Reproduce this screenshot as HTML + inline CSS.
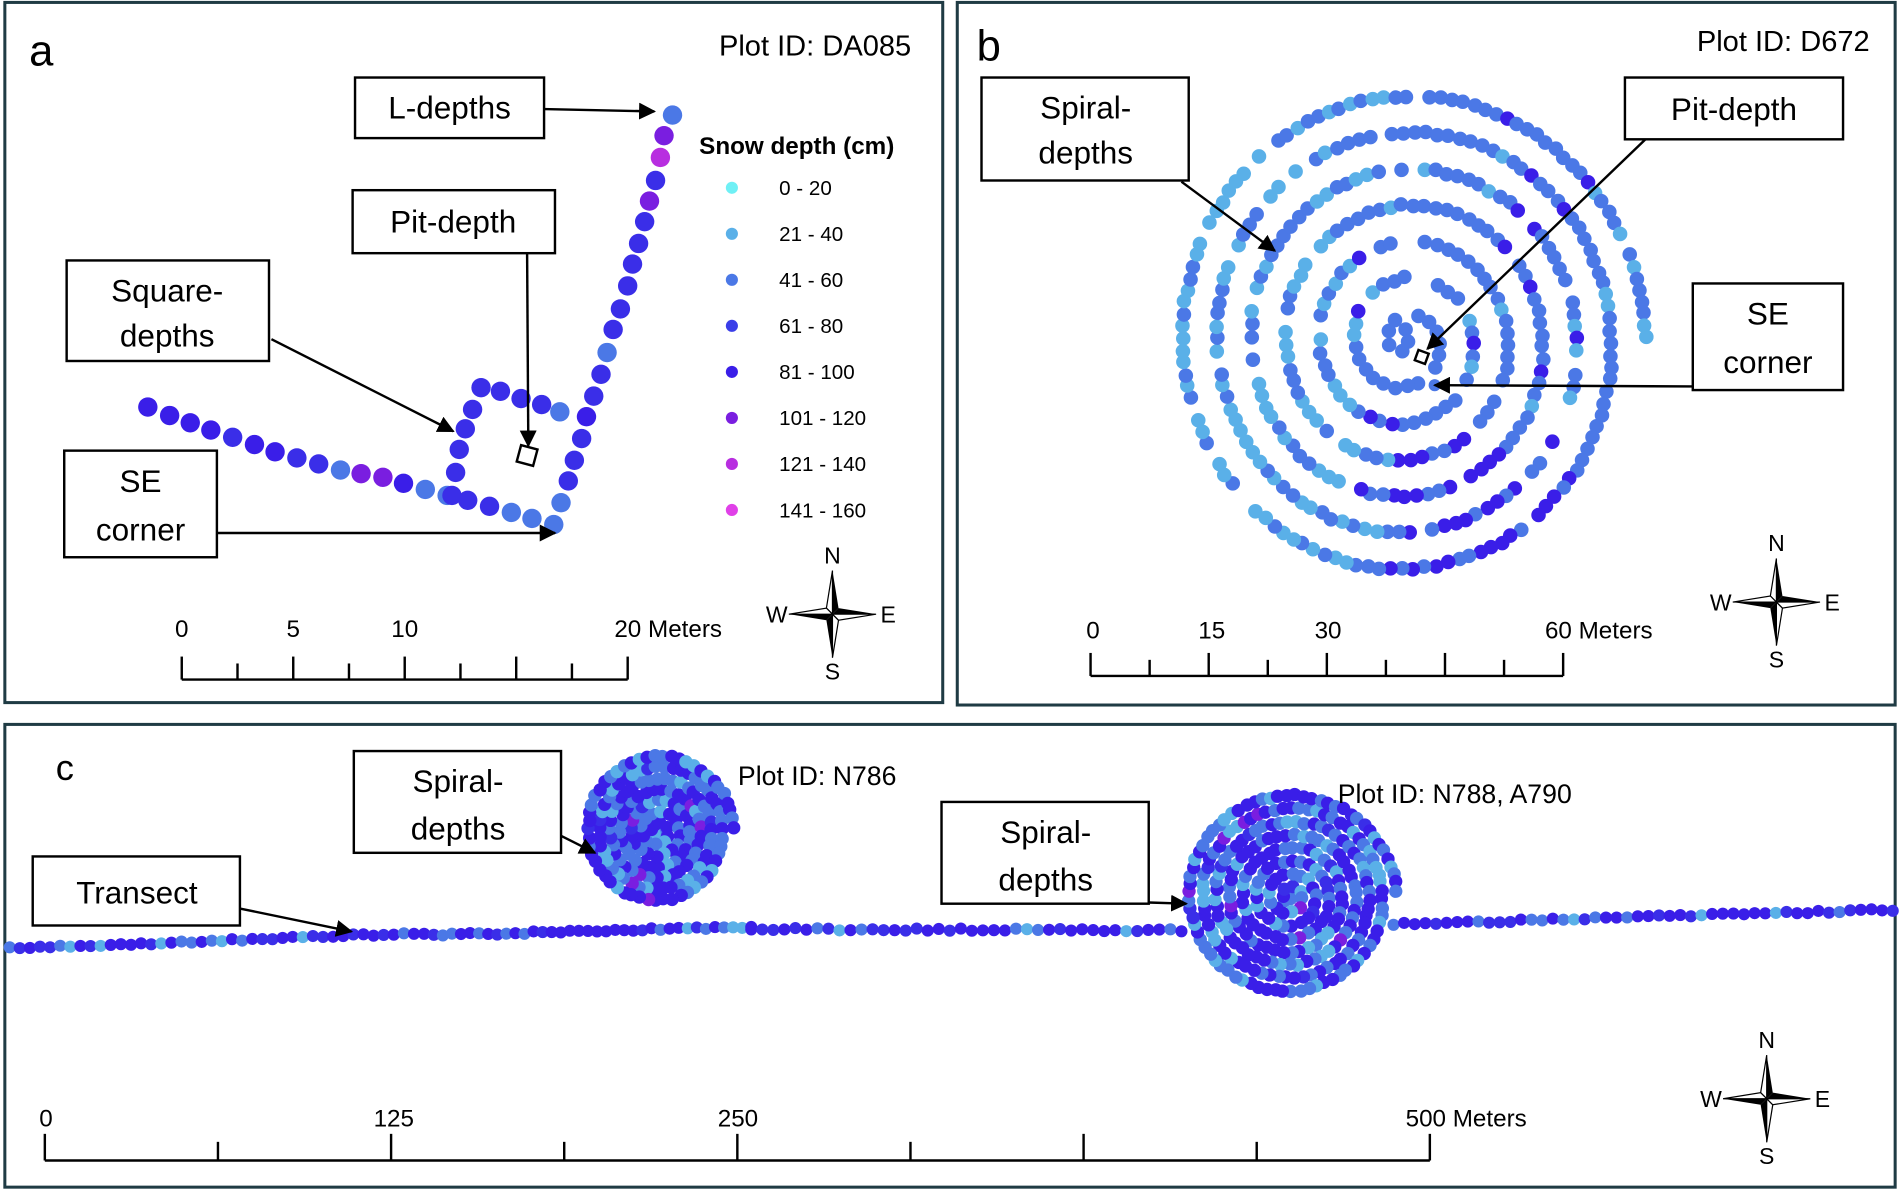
<!DOCTYPE html>
<html><head><meta charset="utf-8"><style>
html,body{margin:0;padding:0;background:#fff;}
svg{display:block;}
text{font-family:"Liberation Sans",sans-serif;fill:#000;}
</style></head><body>
<svg id="s" width="1900" height="1192" viewBox="0 0 1568 984" preserveAspectRatio="none" xmlns="http://www.w3.org/2000/svg">
<defs><marker id="ah" viewBox="0 0 10 10" refX="9" refY="5" markerWidth="7" markerHeight="7" orient="auto"><path d="M0,0 L10,5 L0,10 z" fill="#000"/></marker></defs>
<rect x="0" y="0" width="1568" height="984" fill="#fff"/>
<rect x="4" y="2" width="774" height="578" fill="none" stroke="#1f3b44" stroke-width="2.5"/>
<rect x="790" y="2" width="774" height="580" fill="none" stroke="#1f3b44" stroke-width="2.5"/>
<rect x="4" y="598" width="1560" height="382" fill="none" stroke="#1f3b44" stroke-width="2.5"/>
<g id="dots"></g>
<!-- Panel a -->
<text x="24" y="54" font-size="36">a</text>
<text x="752" y="46" font-size="24" text-anchor="end">Plot ID: DA085</text>
<g stroke="#000" stroke-width="2" fill="#fff">
<rect x="293" y="64" width="156" height="50"/>
<rect x="291" y="157" width="167" height="52"/>
<rect x="55" y="215" width="167" height="83"/>
<rect x="53" y="372" width="126" height="88"/>
</g>
<text x="371" y="98" font-size="26" text-anchor="middle">L-depths</text>
<text x="374" y="192" font-size="26" text-anchor="middle">Pit-depth</text>
<text x="138" y="249" font-size="26" text-anchor="middle">Square-</text>
<text x="138" y="286" font-size="26" text-anchor="middle">depths</text>
<text x="116" y="406" font-size="26" text-anchor="middle">SE</text>
<text x="116" y="446" font-size="26" text-anchor="middle">corner</text>
<g stroke="#000" stroke-width="2" fill="none" marker-end="url(#ah)">
<line x1="449" y1="90" x2="540" y2="92"/>
<line x1="435" y1="209" x2="436" y2="368"/>
<line x1="224" y1="280" x2="374" y2="356"/>
<line x1="179" y1="440" x2="458" y2="440"/>
</g>
<rect x="428" y="369" width="14" height="14" fill="#fff" stroke="#000" stroke-width="2" transform="rotate(15 435 376)"/>
<text x="577" y="127" font-size="20" font-weight="bold">Snow depth (cm)</text>
<g font-size="17">
<text x="643" y="161">0 - 20</text><text x="643" y="199">21 - 40</text><text x="643" y="237">41 - 60</text><text x="643" y="275">61 - 80</text>
<text x="643" y="313">81 - 100</text><text x="643" y="351">101 - 120</text><text x="643" y="389">121 - 140</text><text x="643" y="427">141 - 160</text>
</g>
<g>
<circle cx="604" cy="155" r="5" fill="#6ff0f5"/><circle cx="604" cy="193" r="5" fill="#5ab0e8"/><circle cx="604" cy="231" r="5" fill="#4b78e6"/><circle cx="604" cy="269" r="5" fill="#3a3ee8"/>
<circle cx="604" cy="307" r="5" fill="#3a1ee8"/><circle cx="604" cy="345" r="5" fill="#7a1ee0"/><circle cx="604" cy="383" r="5" fill="#b82ee0"/><circle cx="604" cy="421" r="5" fill="#e040e8"/>
</g>
<g id="scales" stroke="#000" stroke-width="2" fill="none"></g>
<g font-size="20">
<text x="150" y="526" text-anchor="middle">0</text><text x="242" y="526" text-anchor="middle">5</text><text x="334" y="526" text-anchor="middle">10</text><text x="507" y="526">20 Meters</text>
<text x="902" y="527" text-anchor="middle">0</text><text x="1000" y="527" text-anchor="middle">15</text><text x="1096" y="527" text-anchor="middle">30</text><text x="1275" y="527">60 Meters</text>
<text x="38" y="930" text-anchor="middle">0</text><text x="325" y="930" text-anchor="middle">125</text><text x="609" y="930" text-anchor="middle">250</text><text x="1160" y="930">500 Meters</text>
</g>
<!-- Panel b -->
<text x="806" y="50" font-size="36">b</text>
<text x="1543" y="42" font-size="24" text-anchor="end">Plot ID: D672</text>
<g stroke="#000" stroke-width="2" fill="#fff">
<rect x="810" y="64" width="171" height="85"/>
<rect x="1341" y="64" width="180" height="51"/>
<rect x="1397" y="234" width="124" height="88"/>
</g>
<text x="896" y="98" font-size="26" text-anchor="middle">Spiral-</text>
<text x="896" y="135" font-size="26" text-anchor="middle">depths</text>
<text x="1431" y="99" font-size="26" text-anchor="middle">Pit-depth</text>
<text x="1459" y="268" font-size="26" text-anchor="middle">SE</text>
<text x="1459" y="308" font-size="26" text-anchor="middle">corner</text>
<g stroke="#000" stroke-width="2" fill="none" marker-end="url(#ah)">
<line x1="975" y1="150" x2="1052" y2="207"/>
<line x1="1358" y1="115" x2="1178" y2="288"/>
<line x1="1397" y1="319" x2="1184" y2="318"/>
</g>
<!-- Panel c -->
<text x="46" y="644" font-size="30">c</text>
<g stroke="#000" stroke-width="2" fill="#fff">
<rect x="292" y="620" width="171" height="84"/>
<rect x="777" y="662" width="171" height="84"/>
<rect x="27" y="707" width="171" height="57"/>
</g>
<text x="378" y="654" font-size="26" text-anchor="middle">Spiral-</text>
<text x="378" y="693" font-size="26" text-anchor="middle">depths</text>
<text x="863" y="696" font-size="26" text-anchor="middle">Spiral-</text>
<text x="863" y="735" font-size="26" text-anchor="middle">depths</text>
<text x="113" y="746" font-size="26" text-anchor="middle">Transect</text>
<text x="609" y="648" font-size="22">Plot ID: N786</text>
<text x="1104" y="663" font-size="22">Plot ID: N788, A790</text>
<g stroke="#000" stroke-width="2" fill="none" marker-end="url(#ah)">
<line x1="463" y1="690" x2="491" y2="704"/>
<line x1="948" y1="745" x2="979" y2="746"/>
<line x1="198" y1="750" x2="290" y2="769"/>
</g>
<g id="comp"></g>
</svg>
<script>
var NS="http://www.w3.org/2000/svg";
var D=document.getElementById("dots"),S=document.getElementById("scales"),C=document.getElementById("comp");
function el(p,t,a){var e=document.createElementNS(NS,t);for(var k in a)e.setAttribute(k,a[k]);p.appendChild(e);return e;}
var seed=7;function rnd(){seed=(seed*16807)%2147483647;return seed/2147483647;}
var COL={c:"#6ff0f5",l:"#5ab0e8",m:"#4b78e6",d:"#3a2ee8",v:"#3a1ee8",p:"#7a1ee0",g:"#b82ee0",k:"#e040e8"};
function dot(x,y,r,c){el(D,"circle",{cx:x,cy:y,r:r,fill:c});}
var A=[[122,336,"v"],[140,343,"v"],[157,349,"v"],[174,355,"v"],[192,361,"d"],[210,367,"v"],[227,373,"v"],[245,378,"d"],[263,383,"d"],[281,388,"m"],[298,391,"p"],[316,394,"p"],[333,399,"v"],[351,404,"m"],[369,409,"m"],[386,413,"d"],[404,418,"d"],[422,423,"m"],[439,428,"m"],[457,433,"m"],
[463,415,"m"],[469,397,"d"],[474,380,"d"],[480,362,"d"],[484,344,"v"],[490,327,"d"],[496,309,"d"],[501,291,"m"],[506,272,"d"],[512,255,"d"],[518,236,"d"],[522,218,"d"],[527,201,"d"],[532,183,"d"],[536,166,"p"],[541,149,"d"],[545,130,"g"],[548,112,"p"],[555,95,"m"],
[373,409,"d"],[376,390,"d"],[379,371,"d"],[384,354,"d"],[390,338,"d"],[397,320,"d"],[413,323,"d"],[430,329,"d"],[447,334,"d"],[462,340,"m"]];
A.forEach(function(p){dot(p[0],p[1],8,COL[p[2]]);});
function spiral(cx,cy,rx,ry,turns,step,r,colf,gaps){
 var th=0.6;var maxT=turns*2*Math.PI;
 while(th<maxT){var f=th/maxT;var x=cx+rx*f*Math.cos(th),y=cy+ry*f*Math.sin(th);
  var rad=Math.max(rx,ry)*f;
  var skip=false;if(gaps&&rnd()<gaps)skip=true;
  if(!skip)dot(x+(rnd()-.5)*2,y+(rnd()-.5)*2,r,colf(x,y,th,f));
  th+=step/Math.max(rad,8);}
}
spiral(1160,282,198,210,7,10,6,function(x,y){var q=rnd();
 if(x<1120&&q<0.55)return COL.l; if(x>1150&&y>360&&q<0.6)return COL.v; if(q<0.15)return COL.l; if(q<0.22)return COL.v; return COL.m;},0.1);
dot(1160,272,6,COL.m);dot(1162,282,6,COL.m);dot(1184,318,5,COL.m);
el(D,"rect",{x:1169,y:290,width:9,height:9,fill:"#fff",stroke:"#000","stroke-width":2,transform:"rotate(20 1173 294)"});
function line(x1,y1,x2,y2,n){for(var i=0;i<n;i++){var t=i/(n-1);var q=rnd();var c=q<0.5?COL.v:(q<0.75?COL.d:(q<0.92?COL.m:COL.l));dot(x1+(x2-x1)*t,y1+(y2-y1)*t+(rnd()-.5)*2,5,c);}}
line(8,783,350,770,42);line(358,772,620,765,36);line(620,767,975,768,40);line(1150,763,1562,751,48);
function dense(cx,cy,rx,ry,turns){spiral(cx,cy,rx,ry,turns,7,5.5,function(){var q=rnd();return q<0.45?COL.v:(q<0.75?COL.m:(q<0.92?COL.l:(q<0.97?COL.d:COL.p)));},0);}
dense(543,686,62,64,7);dense(1064,740,88,86,8);
function scale(x0,x1,y,n,h){el(S,"line",{x1:x0,y1:y,x2:x1,y2:y});for(var i=0;i<=n;i++){var x=x0+(x1-x0)*i/n;el(S,"line",{x1:x,y1:y,x2:x,y2:y-((i%2==0||i==n)?h:h*0.7)});}}
scale(150,518,561,8,19);scale(900,1290,558,8,19);scale(37,1180,958,8,22);
function comp(cx,cy,s){var g=el(C,"g",{transform:"translate("+cx+","+cy+") scale("+s+")"});
 el(g,"path",{d:"M0,-36 L5,-5 L0,0 z",fill:"#000"});el(g,"path",{d:"M0,-36 L-5,-5 L0,0 z",fill:"#fff",stroke:"#000","stroke-width":1});
 el(g,"path",{d:"M0,36 L-5,5 L0,0 z",fill:"#000"});el(g,"path",{d:"M0,36 L5,5 L0,0 z",fill:"#fff",stroke:"#000","stroke-width":1});
 el(g,"path",{d:"M-36,0 L-5,5 L0,0 z",fill:"#000"});el(g,"path",{d:"M-36,0 L-5,-5 L0,0 z",fill:"#fff",stroke:"#000","stroke-width":1});
 el(g,"path",{d:"M36,0 L5,-5 L0,0 z",fill:"#000"});el(g,"path",{d:"M36,0 L5,5 L0,0 z",fill:"#fff",stroke:"#000","stroke-width":1});
 var L=[["N",0,-42],["S",0,54],["W",-46,7],["E",46,7]];
 L.forEach(function(l){var t=el(g,"text",{x:l[1],y:l[2],"font-size":19,"text-anchor":"middle"});t.textContent=l[0];});}
comp(687,507,1);comp(1466,497,1);comp(1458,907,1);
</script>
</body></html>
